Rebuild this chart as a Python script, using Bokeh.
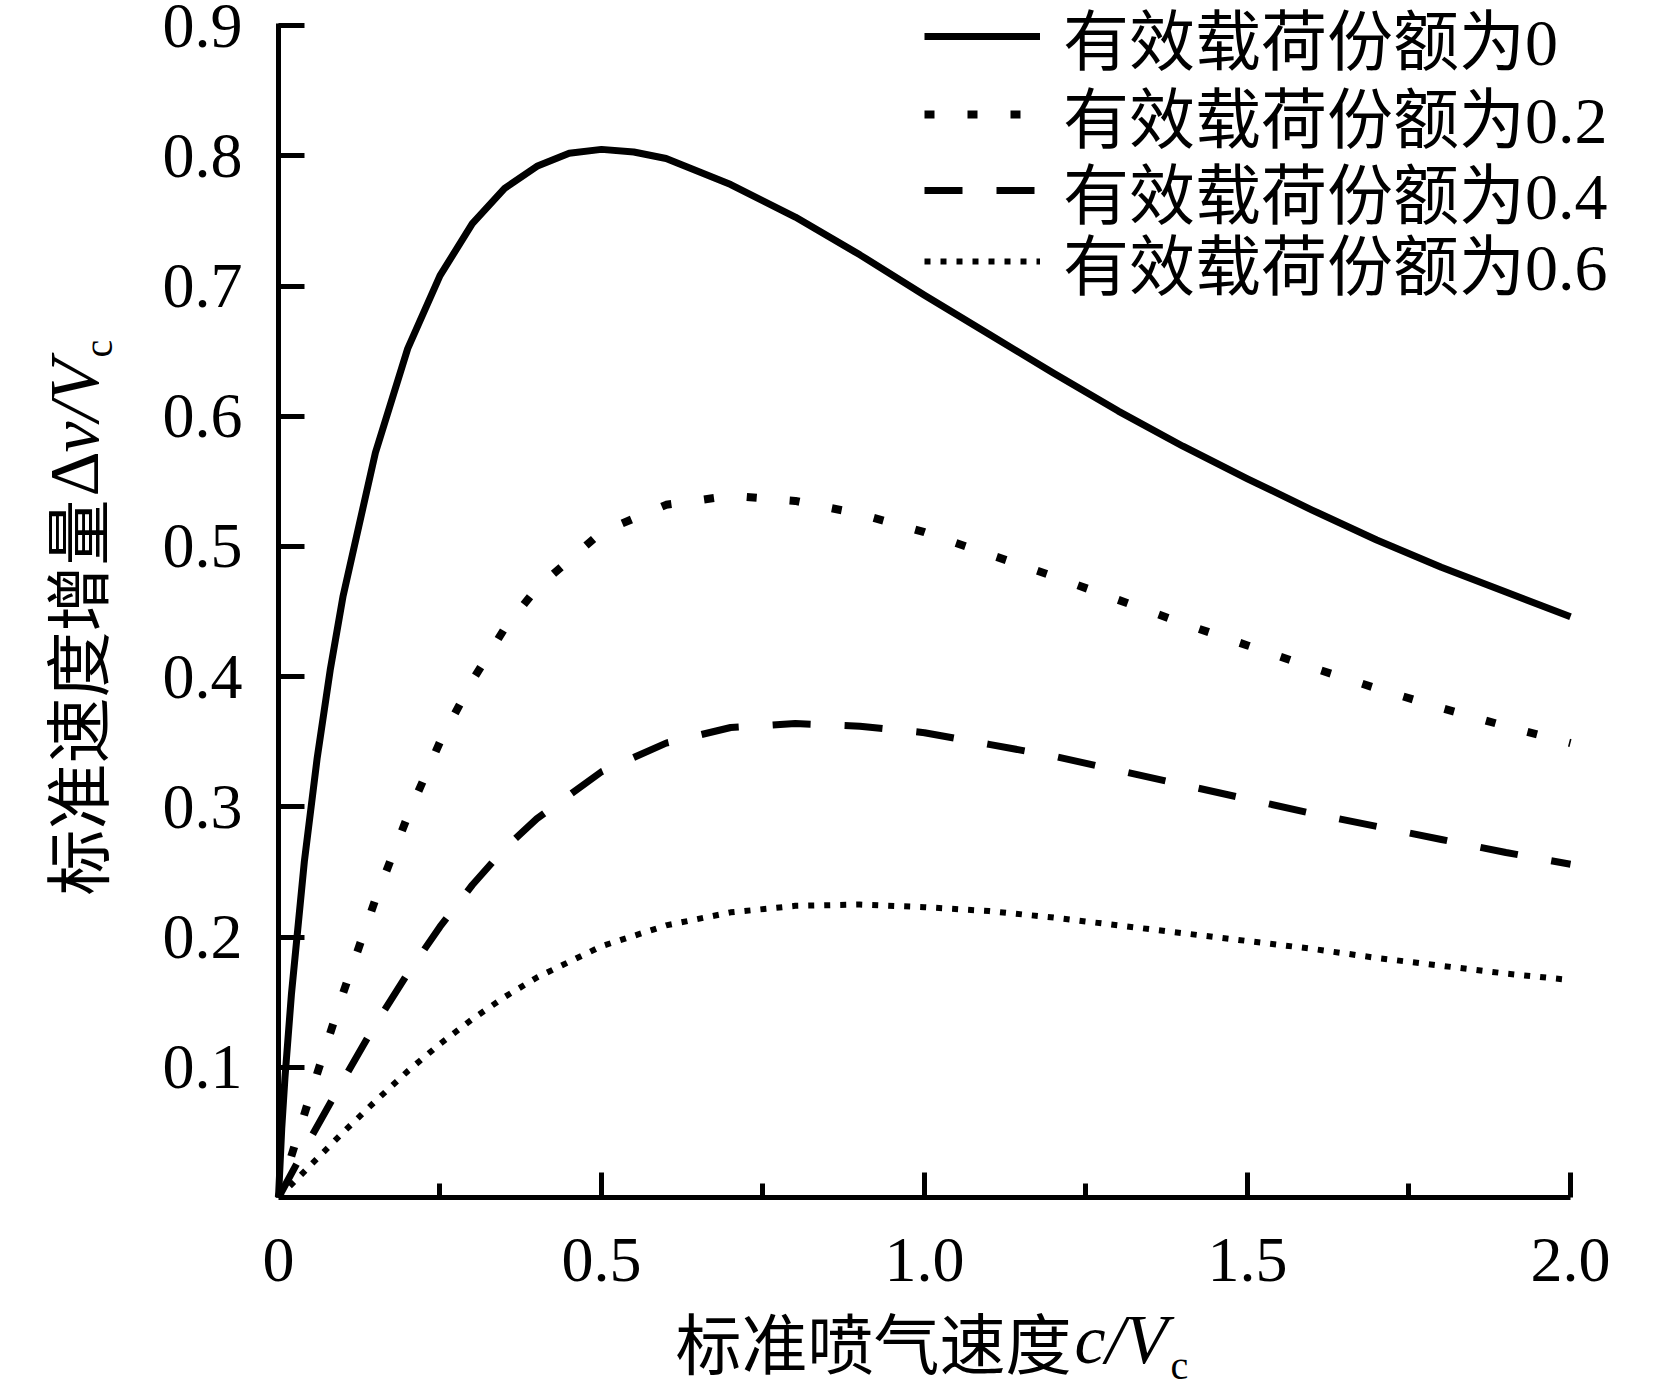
import math
from bokeh.plotting import figure
from bokeh.models import (Range1d, FixedTicker, CustomJSTickFormatter, Legend,
                          LegendItem, Label)
from bokeh.embed import file_html
from bokeh.resources import INLINE

# ---- data ----
x_p0 = [0, 0.005, 0.01, 0.02, 0.04, 0.06, 0.08, 0.1, 0.15, 0.2, 0.25, 0.3, 0.35,
        0.4, 0.45, 0.5, 0.55, 0.6, 0.7, 0.8, 0.9, 1.0, 1.1, 1.2, 1.3, 1.4, 1.5,
        1.6, 1.7, 1.8, 1.9, 2.0]
dv_p0 = [0, 0.053, 0.092, 0.156, 0.258, 0.338, 0.405, 0.462, 0.572, 0.652, 0.708,
         0.748, 0.775, 0.792, 0.802, 0.805, 0.803, 0.798, 0.778, 0.753, 0.724,
         0.693, 0.663, 0.633, 0.604, 0.577, 0.552, 0.528, 0.505, 0.484, 0.465,
         0.446]

x_q = [0, 0.05, 0.1, 0.15, 0.2, 0.25, 0.3, 0.35, 0.4, 0.5, 0.6, 0.7, 0.8, 0.9,
       1.0, 1.1, 1.2, 1.3, 1.4, 1.5, 1.6, 1.7, 1.8, 1.9, 2.0]
dv_p2 = [0, 0.080, 0.157, 0.229, 0.293, 0.350, 0.397, 0.437, 0.468, 0.511, 0.532,
         0.539, 0.535, 0.525, 0.511, 0.494, 0.477, 0.459, 0.441, 0.424, 0.407,
         0.391, 0.376, 0.362, 0.349]
dv_p4 = [0, 0.046, 0.090, 0.133, 0.172, 0.208, 0.240, 0.268, 0.291, 0.327, 0.349,
         0.361, 0.364, 0.362, 0.357, 0.348, 0.339, 0.328, 0.317, 0.306, 0.295,
         0.285, 0.275, 0.265, 0.256]
dv_p6 = [0, 0.025, 0.050, 0.074, 0.097, 0.118, 0.137, 0.154, 0.169, 0.193, 0.209,
         0.219, 0.224, 0.225, 0.223, 0.220, 0.215, 0.209, 0.203, 0.197, 0.191,
         0.184, 0.178, 0.172, 0.167]

series_labels = ["有效载荷份额为0", "有效载荷份额为0.2", "有效载荷份额为0.4", "有效载荷份额为0.6"]

x_ticks = [0, 0.5, 1.0, 1.5, 2.0]
x_tick_labels = ["0", "0.5", "1.0", "1.5", "2.0"]
x_minor_ticks = [0.25, 0.75, 1.25, 1.75]
y_ticks = [0.1, 0.2, 0.3, 0.4, 0.5, 0.6, 0.7, 0.8, 0.9]
y_tick_labels = ["0.1", "0.2", "0.3", "0.4", "0.5", "0.6", "0.7", "0.8", "0.9"]

SERIF = "Liberation Serif"
CJK = "Noto Sans CJK SC"
MIXED = "Liberation Serif, Noto Sans CJK SC"

W, H = 1650, 1392
p = figure(width=W, height=H, x_range=Range1d(-0.43034, 2.12384),
           y_range=Range1d(-0.14977, 0.91935), title=None,
           output_backend="svg", toolbar_location=None,
           min_border_left=0, min_border_right=0, min_border_top=0,
           min_border_bottom=0)
p.xgrid.visible = False
p.ygrid.visible = False
p.outline_line_color = None
p.background_fill_color = "white"
p.border_fill_color = "white"

fmt_code = """
const i = tvals.findIndex(t => Math.abs(t - tick) < 1e-9);
return i >= 0 ? tlabels[i] : '';
"""
xa = p.xaxis[0]
xa.ticker = FixedTicker(ticks=x_ticks, minor_ticks=x_minor_ticks)
xa.formatter = CustomJSTickFormatter(args=dict(tvals=x_ticks, tlabels=x_tick_labels), code=fmt_code)
xa.fixed_location = 0
xa.bounds = (0, 2.0)
ya = p.yaxis[0]
ya.ticker = FixedTicker(ticks=y_ticks, minor_ticks=[])
ya.formatter = CustomJSTickFormatter(args=dict(tvals=y_ticks, tlabels=y_tick_labels), code=fmt_code)
ya.fixed_location = 0
ya.bounds = (0, 0.9017)

for ax in (xa, ya):
    ax.axis_line_width = 5
    ax.axis_line_color = "black"
    ax.major_tick_line_width = 5
    ax.major_tick_line_color = "black"
    ax.minor_tick_line_width = 5
    ax.minor_tick_line_color = "black"
    ax.major_tick_out = 0
    ax.minor_tick_out = 0
    ax.major_label_text_font = SERIF
    ax.major_label_text_font_size = "64px"
    ax.major_label_text_color = "black"
xa.major_tick_in = 25
xa.minor_tick_in = 14
xa.major_label_standoff = 42
ya.major_tick_in = 26
ya.minor_tick_line_color = None
ya.major_label_standoff = 36

r0 = p.line(x_p0, dv_p0, line_color="black", line_width=7, line_join="round")
r2 = p.line(x_q, dv_p2, line_color="black", line_width=8, line_dash="10 33")
r4 = p.line(x_q, dv_p4, line_color="black", line_width=7, line_dash="38 34")
r6 = p.line(x_q, dv_p6, line_color="black", line_width=6, line_dash="6 10")

# one legend per row so that rows sit at the reference spacing
legend_rows = [(r0, 1308), (r2, 1230), (r4, 1154), (r6, 1083)]
for (rend, ybot), lab_text in zip(legend_rows, series_labels):
    lg = Legend(items=[LegendItem(label=lab_text, renderers=[rend])],
                location=(924, ybot), glyph_width=116, glyph_height=90,
                label_height=90, label_standoff=23, spacing=0, padding=0,
                margin=0, border_line_color=None, background_fill_alpha=0,
                label_text_font=MIXED, label_text_font_size="66px",
                label_text_color="black")
    p.add_layout(lg)

def lab(x, y, text, font, size, style="normal", angle=0.0):
    p.add_layout(Label(x=x, y=y, text=text, text_font=font, text_font_size=size,
                       text_font_style=style, angle=angle, text_baseline="alphabetic",
                       text_align="left", text_color="black"))

# x axis title: 标准喷气速度 c/V_c
lab(0.6146, -0.1091, "标准喷气速度", CJK, "66px")
lab(1.2322, -0.1091, "c/V", SERIF, "70px", "italic")
lab(1.3808, -0.1291, "c", SERIF, "40px")

# y axis title: 标准速度增量 Δv/V_c (rotated)
ang = math.pi / 2
lab(-0.3158, 0.23195, "标准速度增量", CJK, "66px", angle=ang)
lab(-0.3158, 0.5384, "Δ", SERIF, "70px", angle=ang)
lab(-0.3158, 0.5722, "v/V", SERIF, "70px", "italic", angle=ang)
lab(-0.2786, 0.6452, "c", SERIF, "40px", angle=ang)

open("out.html", "w").write(file_html(p, INLINE))
